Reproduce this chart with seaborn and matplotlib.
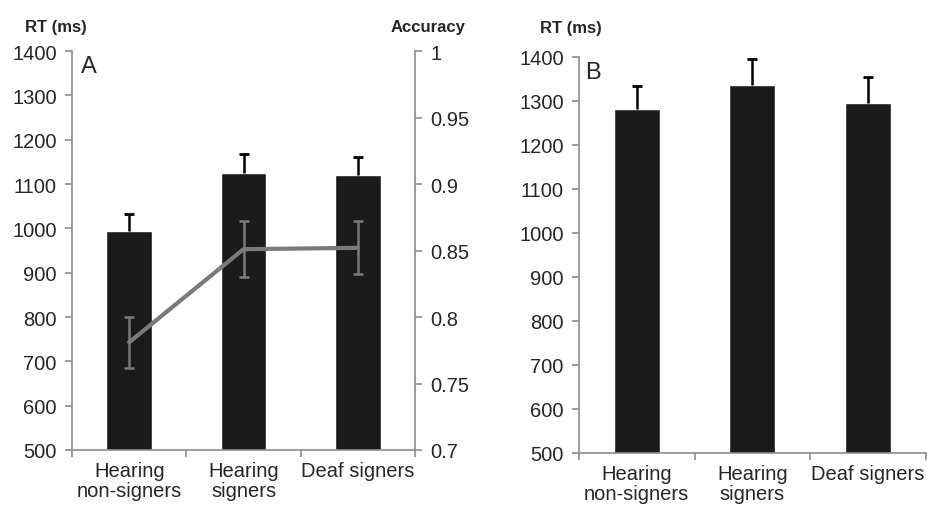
import numpy as np
import pandas as pd
import seaborn as sns
import matplotlib.pyplot as plt
from matplotlib.ticker import FixedLocator

groups = ["Hearing\nnon-signers", "Hearing\nsigners", "Deaf signers"]

# panel A: reaction time bars + accuracy line
rt_a = [994, 1125, 1120]
rt_a_err = [38, 43, 40]
acc_a = [0.781, 0.851, 0.852]
acc_a_err = [0.019, 0.021, 0.020]

# panel B: reaction time bars
rt_b = [1282, 1336, 1295]
rt_b_err = [52, 59, 60]

sns.set_style("white")
plt.rcParams["font.family"] = ["Liberation Sans", "DejaVu Sans"]

axis_gray = "#8c8c8c"
bar_color = "#1b1b1b"
line_gray = "#7a7a7a"
tick_fs = 14.5

fig = plt.figure(figsize=(9.27, 5.06), dpi=100)
ax_a = fig.add_axes([0.0777, 0.1087, 0.37, 0.7885])
ax_b = fig.add_axes([0.6246, 0.1028, 0.374, 0.7826])


def style_axis(ax):
    for side in ["top", "right"]:
        ax.spines[side].set_visible(False)
    for side in ["left", "bottom"]:
        ax.spines[side].set_color(axis_gray)
        ax.spines[side].set_linewidth(1.2)
    ax.set_ylim(500, 1400)
    ax.set_yticks(range(500, 1401, 100))
    ax.set_xlim(-0.5, 2.5)
    ax.xaxis.set_major_locator(FixedLocator([-0.5, 0.5, 1.5, 2.5]))
    ax.xaxis.set_minor_locator(FixedLocator([0, 1, 2]))
    ax.set_xticklabels([], minor=False)
    ax.set_xticklabels(groups, minor=True, fontsize=tick_fs, linespacing=1.05)
    ax.tick_params(axis="x", which="major", length=5, width=1.2, color=axis_gray, direction="out", bottom=True)
    ax.tick_params(axis="x", which="minor", length=0, pad=8, bottom=True)
    ax.tick_params(axis="y", length=5, width=1.2, color=axis_gray, direction="out",
                   labelsize=tick_fs, pad=6, left=True)
    ax.set_xlabel("")
    ax.set_ylabel("")


def draw_bars(ax, values, errs):
    df = pd.DataFrame({"group": groups, "rt": values})
    sns.barplot(data=df, x="group", y="rt", color=bar_color, saturation=1,
                width=0.4, errorbar=None, ax=ax, zorder=2)
    pos = np.arange(len(values))
    tops = np.array(values) + np.array(errs)
    # upper-only error bars: stem from bar top, cap at the end
    ax.vlines(pos, values, tops, color="black", linewidth=1.8, zorder=3)
    ax.plot(pos, tops, linestyle="none", marker="_", markersize=6.5,
            markeredgewidth=2, color="black", zorder=3)
    style_axis(ax)


draw_bars(ax_a, rt_a, rt_a_err)
draw_bars(ax_b, rt_b, rt_b_err)

# accuracy on a secondary axis
ax_acc = ax_a.twinx()
acc_df = pd.DataFrame({"pos": np.arange(3), "acc": acc_a})
sns.lineplot(data=acc_df, x="pos", y="acc", color=line_gray, linewidth=3, ax=ax_acc, zorder=4)
ax_acc.errorbar(np.arange(3), acc_a, yerr=acc_a_err, fmt="none", ecolor=line_gray,
                elinewidth=1.8, capsize=3.5, capthick=1.8, zorder=4)
ax_acc.set_ylim(0.7, 1.0)
ax_acc.set_yticks([0.7, 0.75, 0.8, 0.85, 0.9, 0.95, 1.0])
ax_acc.set_yticklabels(["0.7", "0.75", "0.8", "0.85", "0.9", "0.95", "1"])
ax_acc.set_xlim(-0.5, 2.5)
ax_acc.set_ylabel("")
ax_acc.set_xlabel("")
for side in ["top", "left", "bottom"]:
    ax_acc.spines[side].set_visible(False)
ax_acc.spines["right"].set_color(axis_gray)
ax_acc.spines["right"].set_linewidth(1.2)
ax_acc.tick_params(axis="y", length=5, width=1.2, color=axis_gray, direction="out",
                   labelsize=tick_fs, pad=6, right=True)

# axis titles and panel letters
fig.text(0.027, 0.945, "RT (ms)", fontsize=12, fontweight="bold", va="center")
fig.text(0.421, 0.945, "Accuracy", fontsize=12, fontweight="bold", va="center")
fig.text(0.582, 0.943, "RT (ms)", fontsize=12, fontweight="bold", va="center")
ax_a.text(0.025, 0.99, "A", transform=ax_a.transAxes, fontsize=17, va="top")
ax_b.text(0.018, 0.99, "B", transform=ax_b.transAxes, fontsize=17, va="top")

fig.savefig("out.png", dpi=100)
